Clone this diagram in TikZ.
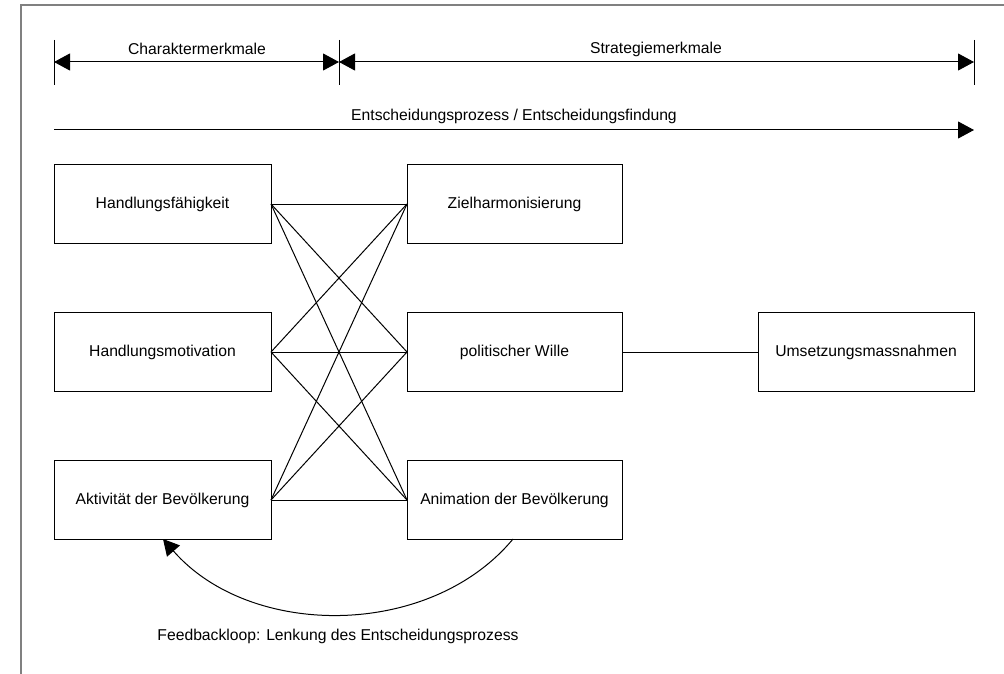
\documentclass[tikz,border=0pt]{standalone}
\usepackage{fontspec}
\setmainfont{Liberation Sans}
\usetikzlibrary{arrows.meta}
\begin{document}
\begin{tikzpicture}[x=1pt,y=-1pt,
  box/.style={draw, line width=1pt, minimum width=216pt, minimum height=79pt, inner sep=0pt, outer sep=0pt, font=\fontsize{15.7}{18}\selectfont},
  lbl/.style={inner sep=0pt, font=\fontsize{15.7}{18}\selectfont},
  conn/.style={line width=1pt},
  tip/.style={-{Triangle[length=16pt,width=17pt]}},
  frame/.style={draw=black!50, line width=1.6pt}
]
\useasboundingbox (0,0) rectangle (1004,674);
% frame
\draw[frame] (1004,5) -- (21,5) -- (21,674);
% dimension line
\coordinate (d1) at (54,62);
\coordinate (d2) at (339,62);
\coordinate (d3) at (974,62);
\draw[conn] (54,40) -- (54,85);
\draw[conn] (339,40) -- (339,85);
\draw[conn] (974,40) -- (974,85);
\draw[conn,{Triangle[length=16pt,width=17pt]}-{Triangle[length=16pt,width=17pt]}] (d1) -- (d2);
\draw[conn,{Triangle[length=16pt,width=17pt]}-{Triangle[length=16pt,width=17pt]}] (d2) -- (d3);
\node[lbl] (charm) at (197,49) {Charaktermerkmale};
\node[lbl] (stratm) at (656,49) {Strategiemerkmale};
% process line
\coordinate (p1) at (54,130);
\coordinate (p2) at (974,130);
\draw[conn,tip] (p1) -- (p2);
\node[lbl] (proc) at (514,116) {Entscheidungsprozess / Entscheidungsfindung};
% boxes
\node[box, minimum width=217pt] (hf) at (162.5,204) {Handlungsfähigkeit};
\node[box, minimum width=217pt] (hm) at (162.5,352) {Handlungsmotivation};
\node[box, minimum width=217pt] (ab) at (162.5,500) {Aktivität der Bevölkerung};
\node[box, minimum width=215pt] (zh) at (514.5,204) {Zielharmonisierung};
\node[box, minimum width=215pt] (pw) at (514.5,352) {politischer Wille};
\node[box, minimum width=215pt] (an) at (514.5,500) {Animation der Bevölkerung};
\node[box] (um) at (866,352) {Umsetzungsmassnahmen};
% connections
\foreach \a in {hf,hm,ab}{
  \foreach \b in {zh,pw,an}{
    \draw[conn] (\a.east) -- (\b.west);
  }
}
\draw[conn] (pw.east) -- (um.west);
% feedback loop
\coordinate (fs) at (513,539);
\coordinate (fe) at (163,539);
\draw[conn,tip] (fs) .. controls (430,639) and (250,639) .. (fe);
\node[lbl] (fb) at (338,636) {Feedbackloop: Lenkung des Entscheidungsprozess};
\end{tikzpicture}
\end{document}
